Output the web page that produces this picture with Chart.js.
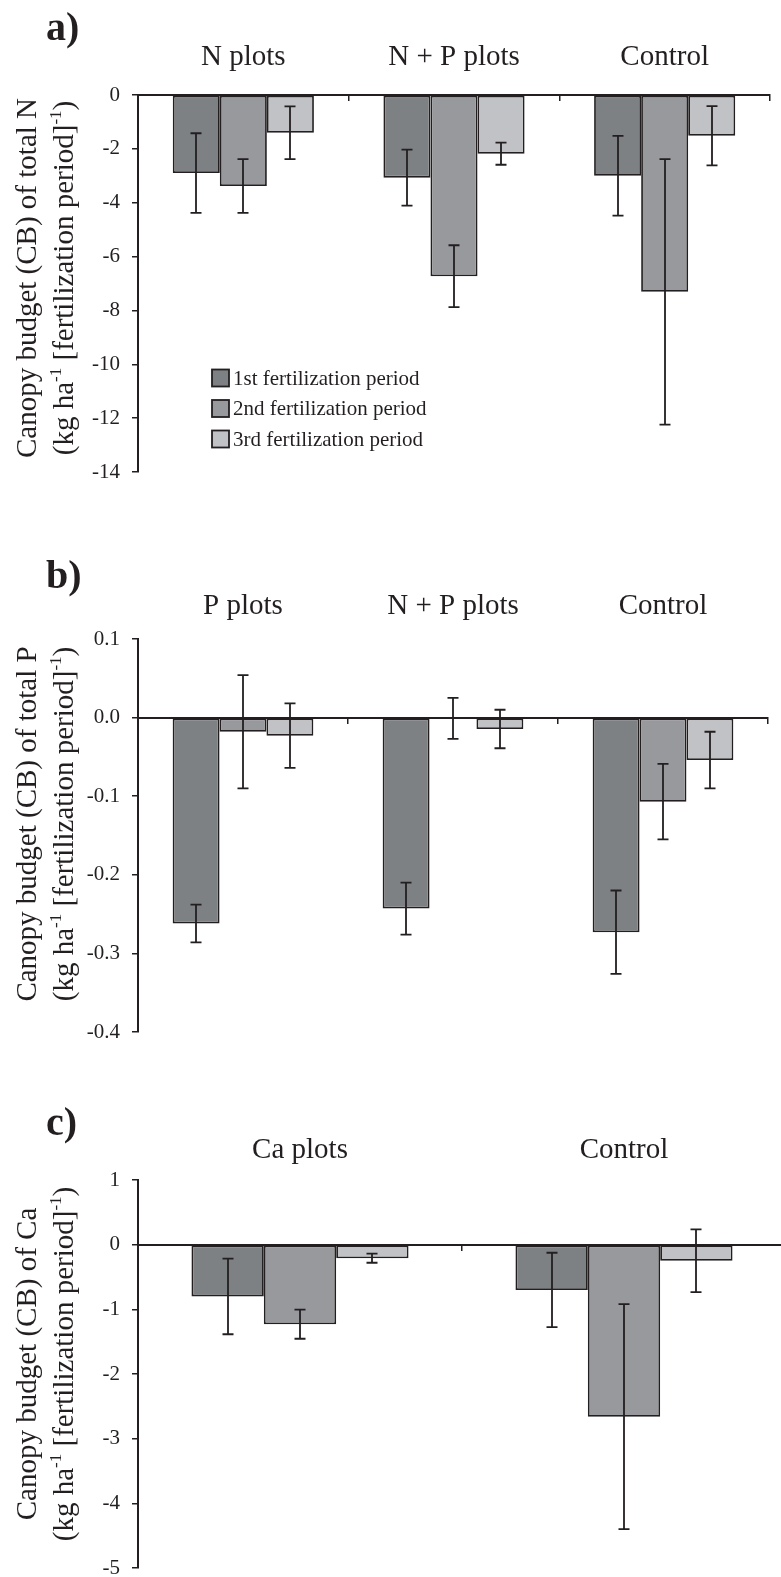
<!DOCTYPE html>
<html>
<head>
<meta charset="utf-8">
<script src="https://cdn.jsdelivr.net/npm/chart.js@4.4.0/dist/chart.umd.min.js"></script>
<style>
  html, body { margin: 0; padding: 0; background: #fff; }
  body { position: relative; width: 781px; height: 1577px; overflow: hidden; }
  canvas { position: absolute; left: 0; display: block; }
</style>
</head>
<body>
<canvas id="chartA" width="781" height="500" style="top:0"></canvas>
<canvas id="chartB" width="781" height="530" style="top:530px"></canvas>
<canvas id="chartC" width="790" height="520" style="top:1080px"></canvas>
<script>
const periods = ['1st fertilization period', '2nd fertilization period', '3rd fertilization period'];
const periodColors = ['#7e8184', '#97999c', '#c1c2c5'];

// a) total N
const groupsN = ['N plots', 'N + P plots', 'Control'];
const totalN1 = [-2.90, -3.07, -3.00];
const totalN2 = [-3.38, -6.73, -7.31];
const totalN3 = [-1.40, -2.18, -1.51];
const errN1 = [1.48, 1.04, 1.48];
const errN2 = [1.00, 1.15, 4.93];
const errN3 = [0.98, 0.41, 1.10];
const ticksN = { min: -14, max: 0, step: 2 };

// b) total P
const groupsP = ['P plots', 'N + P plots', 'Control'];
const totalP1 = [-0.262, -0.243, -0.273];
const totalP2 = [-0.018, -0.001, -0.107];
const totalP3 = [-0.023, -0.0145, -0.054];
const errP1 = [0.024, 0.033, 0.053];
const errP2 = [0.072, 0.026, 0.048];
const errP3 = [0.041, 0.0245, 0.036];
const ticksP = { min: -0.4, max: 0.1, step: 0.1 };

// c) Ca
const groupsCa = ['Ca plots', 'Control'];
const ca1 = [-0.80, -0.70];
const ca2 = [-1.23, -2.66];
const ca3 = [-0.21, -0.25];
const errCa1 = [0.585, 0.575];
const errCa2 = [0.225, 1.74];
const errCa3 = [0.07, 0.485];
const ticksCa = { min: -5, max: 1, step: 1 };

const unitLine = ['(kg ha', '^-1', ' [fertilization period]', '^-1', ')'];

const ink = '#231f20';
const serif = '"Liberation Serif", "Times New Roman", serif';

function drawRotated(ctx, parts, baseX, centerY, size) {
  const sup = Math.round(size * 0.6);
  const pieces = parts.map(p => {
    const isSup = p.startsWith('^');
    const text = isSup ? p.slice(1) : p;
    ctx.font = `${isSup ? sup : size}px ${serif}`;
    return { text, isSup, w: ctx.measureText(text).width };
  });
  const total = pieces.reduce((s, p) => s + p.w, 0);
  ctx.save();
  ctx.translate(baseX, centerY);
  ctx.rotate(-Math.PI / 2);
  ctx.textBaseline = 'alphabetic';
  ctx.textAlign = 'left';
  let x = -total / 2;
  pieces.forEach(p => {
    ctx.font = `${p.isSup ? sup : size}px ${serif}`;
    ctx.fillText(p.text, x, p.isSup ? -size * 0.4 : 0);
    x += p.w;
  });
  ctx.restore();
}

const panelDecor = {
  id: 'panelDecor',
  afterDatasetsDraw(chart) {
    const ctx = chart.ctx;
    const y = chart.scales.y;
    ctx.save();
    ctx.strokeStyle = ink;
    ctx.lineWidth = 1.8;
    chart.data.datasets.forEach((ds, i) => {
      chart.getDatasetMeta(i).data.forEach((bar, j) => {
        const v = ds.data[j], e = ds.errors[j];
        const top = y.getPixelForValue(v + e), bot = y.getPixelForValue(v - e);
        const x = Math.round(bar.x);
        ctx.beginPath();
        ctx.moveTo(x, top); ctx.lineTo(x, bot);
        ctx.moveTo(x - 5.5, top); ctx.lineTo(x + 5.5, top);
        ctx.moveTo(x - 5.5, bot); ctx.lineTo(x + 5.5, bot);
        ctx.stroke();
      });
    });
    ctx.restore();
  },
  afterDraw(chart, args, opts) {
    const ctx = chart.ctx;
    ctx.save();
    ctx.fillStyle = ink;
    ctx.font = `bold 40px ${serif}`;
    ctx.textBaseline = 'alphabetic';
    ctx.fillText(opts.letter, 46, opts.letterY);
    drawRotated(ctx, [opts.title], 36, opts.titleY, 29);
    drawRotated(ctx, unitLine, 73, opts.titleY, 29);
    if (opts.legend) {
      chart.data.datasets.forEach((ds, i) => {
        const cy = 378 + i * 30.5;
        ctx.fillStyle = ds.backgroundColor;
        ctx.fillRect(212, cy - 8.5, 17, 17);
        ctx.strokeStyle = ink;
        ctx.lineWidth = 1.8;
        ctx.strokeRect(212, cy - 8.5, 17, 17);
        ctx.fillStyle = ink;
        ctx.font = `21px ${serif}`;
        ctx.textBaseline = 'middle';
        ctx.fillText(ds.label, 233, cy + 1);
      });
    }
    ctx.restore();
  }
};

function makePanel(id, cfg) {
  return new Chart(document.getElementById(id), {
    type: 'bar',
    data: {
      labels: cfg.groups,
      datasets: cfg.values.map((vals, i) => ({
        label: periods[i],
        data: vals,
        errors: cfg.errors[i],
        backgroundColor: periodColors[i],
        borderColor: ink,
        borderWidth: 1.8,
        borderSkipped: false,
        categoryPercentage: 0.67,
        barPercentage: 1
      }))
    },
    options: {
      responsive: false,
      animation: false,
      devicePixelRatio: 1,
      layout: { padding: { top: 0, left: 0, right: cfg.padRight, bottom: cfg.padBottom } },
      plugins: { legend: { display: false }, tooltip: { enabled: false }, panelDecor: cfg.decor },
      scales: {
        x: {
          position: 'top',
          grid: { display: false, drawTicks: false },
          border: { display: false },
          ticks: { font: { family: serif, size: 29 }, color: ink, padding: cfg.labelPad, maxRotation: 0, autoSkip: false },
          afterFit: s => { s.height = cfg.top; }
        },
        x2: {
          type: 'category',
          position: { y: 0 },
          offset: true,
          z: 1,
          grid: { offset: true, drawOnChartArea: false, tickLength: 5, color: ink, lineWidth: 1.5 },
          border: { color: ink, width: 2 },
          ticks: { display: false }
        },
        y: {
          min: cfg.ticks.min,
          max: cfg.ticks.max,
          ticks: { stepSize: cfg.ticks.step, font: { family: serif, size: 21 }, color: ink, padding: 12, callback: cfg.fmt },
          grid: { drawOnChartArea: false, tickLength: 6, color: ink, lineWidth: 1.5 },
          border: { color: ink, width: 2 },
          afterFit: s => { s.width = 138; }
        }
      }
    },
    plugins: [panelDecor]
  });
}

makePanel('chartA', {
  groups: groupsN,
  values: [totalN1, totalN2, totalN3],
  errors: [errN1, errN2, errN3],
  ticks: ticksN,
  fmt: v => String(Math.round(v)),
  top: 95, padBottom: 28, padRight: 11, labelPad: 20,
  decor: { letter: 'a)', letterY: 40, title: 'Canopy budget (CB) of total N', titleY: 278, legend: true }
});

makePanel('chartB', {
  groups: groupsP,
  values: [totalP1, totalP2, totalP3],
  errors: [errP1, errP2, errP3],
  ticks: ticksP,
  fmt: v => (Math.abs(v) < 1e-9 ? 0 : v).toFixed(1),
  top: 109, padBottom: 28, padRight: 13, labelPad: 15,
  decor: { letter: 'b)', letterY: 58, title: 'Canopy budget (CB) of total P', titleY: 294, legend: false }
});

makePanel('chartC', {
  groups: groupsCa,
  values: [ca1, ca2, ca3],
  errors: [errCa1, errCa2, errCa3],
  ticks: ticksCa,
  fmt: v => String(Math.round(v)),
  top: 100, padBottom: 32, padRight: 4, labelPad: 12,
  decor: { letter: 'c)', letterY: 55, title: 'Canopy budget (CB) of Ca', titleY: 284, legend: false }
});
</script>
</body>
</html>
